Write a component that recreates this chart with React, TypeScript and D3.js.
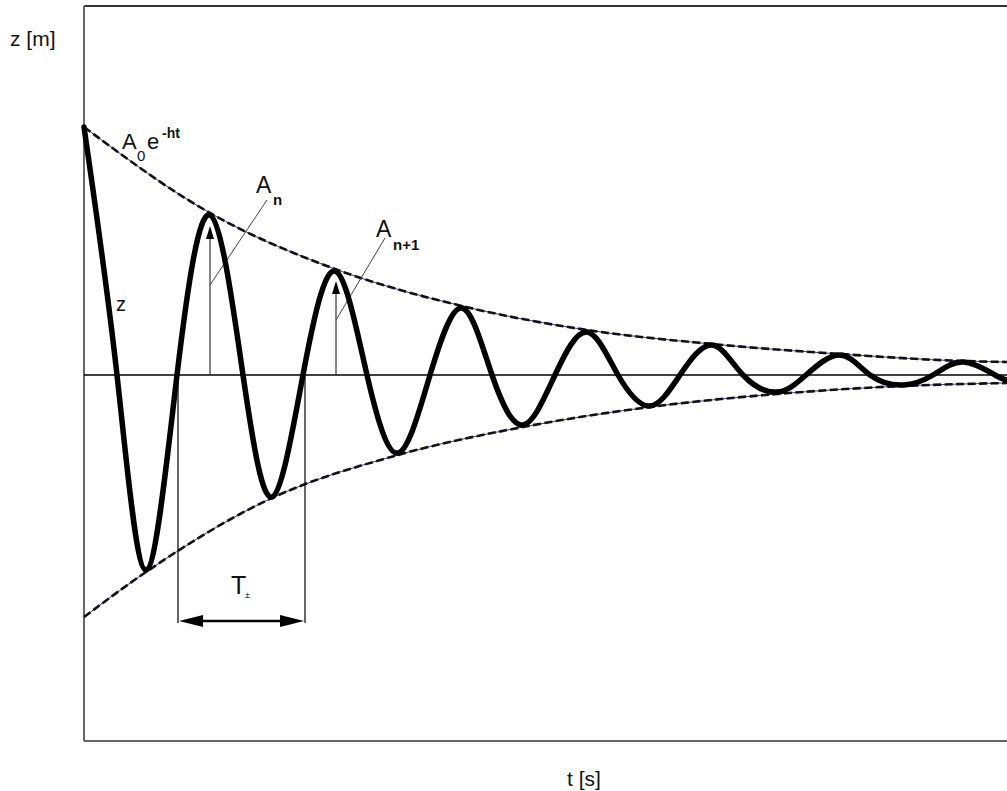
import React from 'react';
import * as d3 from 'd3';

// Damped oscillation z(t): extrema and zero crossings
const curveT = [0, 0.33, 0.62, 0.93, 1.26, 1.59, 1.88, 2.19, 2.51, 2.83, 3.14, 3.46, 3.78, 4.08, 4.39, 4.71, 5.03, 5.34, 5.66, 5.96, 6.28, 6.59, 6.93, 7.22, 7.56, 7.86, 8.19, 8.49, 8.79, 9.11, 9.23];
const curveZ = [2.48, 0, -1.95, 0, 1.6, 0, -1.22, 0, 1.04, 0, -0.78, 0, 0.67, 0, -0.5, 0, 0.43, 0, -0.31, 0, 0.3, 0, -0.17, 0, 0.2, 0, -0.1, 0, 0.13, 0, -0.05];

// Envelopes A0 e^{-ht}
const upperT = [0, 1.26, 2.51, 3.78, 5.03, 6.28, 7.56, 8.79, 9.23];
const upperZ = [2.48, 1.62, 1.06, 0.69, 0.45, 0.31, 0.21, 0.14, 0.13];
const lowerT = [0, 0.62, 1.88, 3.14, 4.39, 5.66, 6.93, 8.19, 9.23];
const lowerZ = [-2.42, -1.97, -1.23, -0.8, -0.52, -0.32, -0.19, -0.11, -0.08];

// Annotations
const ampT = [1.26, 2.52];        // A_n, A_n+1 arrows
const ampTip = [1.49, 0.94];
const leaderFromZ = [0.9, 0.55];
const leaderTo = [[1.83, 1.75], [3.01, 1.37]];
const periodT = [0.94, 2.21];     // T* bracket
const periodZ = -2.46;
const periodBottom = -2.48;

const W = 1007;
const H = 791;
const tMax = 9.23;

export default function App() {
  const x = d3.scaleLinear().domain([0, tMax]).range([84, 1007]);
  const y = d3.scaleLinear().domain([-3.66, 3.69]).range([741, 6]);

  const envLine = d3
    .line<[number, number]>()
    .x((d) => x(d[0]))
    .y((d) => y(d[1]))
    .curve(d3.curveMonotoneX);

  const oscLine = d3
    .line<[number, number]>()
    .x((d) => x(d[0]))
    .y((d) => y(d[1]))
    .curve(d3.curveNatural);

  const curve = curveT.map((t, i) => [t, curveZ[i]] as [number, number]);
  const up = upperT.map((t, i) => [t, upperZ[i]] as [number, number]);
  const lo = lowerT.map((t, i) => [t, lowerZ[i]] as [number, number]);

  const font = "'Liberation Sans', Arial, sans-serif";

  const envelope = (pts: [number, number][], key: string) => (
    <g key={key}>
      <path d={envLine(pts) || ''} fill="none" stroke="#3a3a90" strokeWidth={1} />
      <path d={envLine(pts) || ''} fill="none" stroke="#111" strokeWidth={2.6} strokeDasharray="8 3.5" />
    </g>
  );

  const y0 = y(0);
  const pY = y(periodZ);
  const px0 = x(periodT[0]);
  const px1 = x(periodT[1]);

  return (
    <svg width={W} height={H} style={{ position: 'absolute', left: 0, top: 0, background: '#fff' }} fontFamily={font}>
      <rect x={0} y={0} width={W} height={H} fill="#fff" />
      {/* frame */}
      <line x1={x(0)} x2={x(tMax)} y1={y(3.69)} y2={y(3.69)} stroke="#333" strokeWidth={2} />
      <line x1={x(0)} x2={x(0)} y1={y(3.69)} y2={y(-3.66)} stroke="#666" strokeWidth={2} />
      <line x1={x(0)} x2={x(tMax)} y1={y(-3.66)} y2={y(-3.66)} stroke="#666" strokeWidth={2} />

      {/* zero line */}
      <line x1={x(0)} x2={x(tMax)} y1={y0} y2={y0} stroke="#000" strokeWidth={1.6} />

      {envelope(up, 'u')}
      {envelope(lo, 'l')}

      {/* amplitude arrows */}
      {ampT.map((t, i) => {
        const ax = x(t);
        const tip = y(ampTip[i]);
        return (
          <g key={'a' + i}>
            <line x1={ax} x2={ax} y1={y0} y2={tip + 4} stroke="#222" strokeWidth={1.1} />
            <path d={`M${ax},${tip} L${ax - 4},${tip + 13} L${ax + 4},${tip + 13} Z`} fill="#000" />
            <line x1={ax} y1={y(leaderFromZ[i])} x2={x(leaderTo[i][0])} y2={y(leaderTo[i][1])} stroke="#444" strokeWidth={1} />
          </g>
        );
      })}

      {/* oscillation */}
      <path d={oscLine(curve) || ''} fill="none" stroke="#000" strokeWidth={5.5} strokeLinejoin="round" strokeLinecap="round" />

      {/* period bracket */}
      <line x1={px0} x2={px0} y1={y0} y2={y(periodBottom)} stroke="#000" strokeWidth={1.2} />
      <line x1={px1} x2={px1} y1={y0} y2={y(periodBottom)} stroke="#000" strokeWidth={1.2} />
      <line x1={px0 + 10} x2={px1 - 10} y1={pY} y2={pY} stroke="#000" strokeWidth={2.6} />
      <path d={`M${px0 + 1},${pY} L${px0 + 25},${pY - 6} L${px0 + 25},${pY + 6} Z`} fill="#000" />
      <path d={`M${px1 - 1},${pY} L${px1 - 25},${pY - 6} L${px1 - 25},${pY + 6} Z`} fill="#000" />

      {/* labels */}
      <text x={10} y={46} fontSize={21} fill="#111">z [m]</text>
      <text x={567} y={786} fontSize={21} fill="#111">t [s]</text>
      <text x={116} y={311} fontSize={20} fill="#111">z</text>

      <text x={122} y={149} fontSize={22} fill="#111">A</text>
      <text x={137} y={161} fontSize={15} fill="#111">0</text>
      <text x={147} y={149} fontSize={22} fill="#111">e</text>
      <text x={162} y={138} fontSize={14} fill="#111" fontWeight="bold">-ht</text>

      <text x={256} y={193} fontSize={23} fill="#111">A</text>
      <text x={273} y={205} fontSize={15} fill="#111" fontWeight="bold">n</text>

      <text x={376} y={237} fontSize={23} fill="#111">A</text>
      <text x={393} y={250} fontSize={15} fill="#111" fontWeight="bold">n+1</text>

      <text x={231} y={594} fontSize={25} fill="#111">T</text>
      <text x={245} y={598} fontSize={9} fill="#111">±</text>
    </svg>
  );
}
